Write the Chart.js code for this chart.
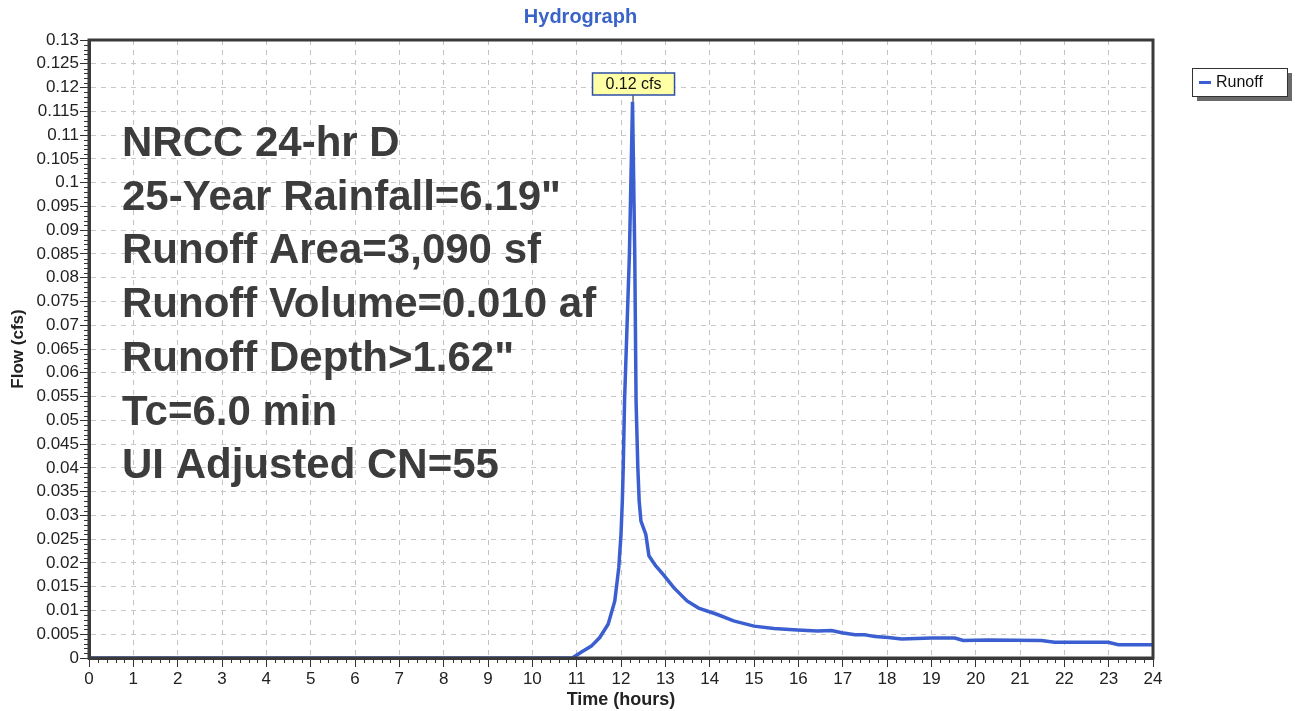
<!DOCTYPE html>
<html>
<head>
<meta charset="utf-8">
<script src="https://cdn.jsdelivr.net/npm/chart.js@4/dist/chart.umd.min.js"></script>
<style>
  html, body { margin: 0; padding: 0; background: #ffffff; }
  #wrap { width: 1296px; height: 711px; position: relative; }
</style>
</head>
<body>
<div id="wrap"><canvas id="c" width="1296" height="711"></canvas></div>
<script>
// ---- data ----
const chartTitle = "Hydrograph";
const seriesName = "Runoff";
const xTitle = "Time (hours)";
const yTitle = "Flow (cfs)";
const hours = [0, 10.9, 11.1, 11.33, 11.52, 11.71, 11.86, 11.95, 12.0, 12.03,
  12.05, 12.08, 12.19, 12.26, 12.31, 12.34, 12.38, 12.41, 12.45, 12.56,
  12.63, 12.78, 12.96, 13.19, 13.49, 13.75, 14.16, 14.54, 15.0, 15.45,
  15.98, 16.43, 16.75, 16.98, 17.28, 17.5, 17.73, 18.03, 18.33, 19.0,
  19.53, 19.72, 20.28, 21.48, 21.78, 22.99, 23.22, 24];
const flow = [0, 0, 0.0012, 0.0025, 0.0043, 0.0071, 0.012, 0.019, 0.026, 0.033,
  0.040, 0.054, 0.085, 0.117, 0.085, 0.054, 0.040, 0.033, 0.0288, 0.026,
  0.0215, 0.0194, 0.0175, 0.0148, 0.012, 0.0105, 0.0092, 0.0078, 0.0067, 0.0062,
  0.0059, 0.0057, 0.0058, 0.0053, 0.0049, 0.0049, 0.0045, 0.0043, 0.004, 0.0042,
  0.0042, 0.0037, 0.0038, 0.0037, 0.0033, 0.0033, 0.0028, 0.0028];
const xMin = 0, xMax = 24, xStep = 1, xMinorStep = 0.2;
const yMin = 0, yMax = 0.13, yStep = 0.005, yMinorStep = 0.001;
const notes = [
  "NRCC 24-hr D",
  "25-Year Rainfall=6.19\"",
  "Runoff Area=3,090 sf",
  "Runoff Volume=0.010 af",
  "Runoff Depth>1.62\"",
  "Tc=6.0 min",
  "UI Adjusted CN=55"
];
const peakUnit = "cfs";

const points = hours.map((h, i) => ({ x: h, y: flow[i] }));
const FONT = "'Liberation Sans', Arial, Helvetica, sans-serif";
const LINE_BLUE = '#3b5fd0';

const decorPlugin = {
  id: 'decor',
  beforeDatasetsDraw(chart) {
    const { ctx, chartArea: a } = chart;
    ctx.save();
    ctx.font = "bold 42px " + FONT;
    ctx.fillStyle = '#3c3c3c';
    ctx.textBaseline = 'alphabetic';
    ctx.textAlign = 'left';
    notes.forEach((t, i) => {
      ctx.fillText(t, a.left + 33, 156 + i * 53.7);
    });
    ctx.restore();
  },
  afterDraw(chart) {
    const { ctx, chartArea: a, scales } = chart;
    const xs = scales.x, ys = scales.y;
    ctx.save();
    // minor ticks
    ctx.strokeStyle = '#333';
    ctx.lineWidth = 1;
    ctx.beginPath();
    const nY = Math.round((yMax - yMin) / yMinorStep);
    for (let i = 0; i <= nY; i++) {
      if (i % Math.round(yStep / yMinorStep) === 0) continue;
      const y = Math.round(ys.getPixelForValue(yMin + i * yMinorStep)) + 0.5;
      ctx.moveTo(a.left - 5, y); ctx.lineTo(a.left, y);
    }
    const nX = Math.round((xMax - xMin) / xMinorStep);
    for (let i = 0; i <= nX; i++) {
      if (i % Math.round(xStep / xMinorStep) === 0) continue;
      const x = Math.round(xs.getPixelForValue(xMin + i * xMinorStep)) + 0.5;
      ctx.moveTo(x, a.bottom); ctx.lineTo(x, a.bottom + 5);
    }
    ctx.stroke();
    // frame
    ctx.strokeStyle = '#3a3a3a';
    ctx.lineWidth = 3;
    ctx.strokeRect(a.left, a.top, a.right - a.left, a.bottom - a.top);

    // peak label
    let pi = 0;
    flow.forEach((v, i) => { if (v > flow[pi]) pi = i; });
    const px = xs.getPixelForValue(hours[pi]);
    const py = ys.getPixelForValue(flow[pi]);
    const label = flow[pi].toFixed(2) + " " + peakUnit;
    ctx.font = "16px " + FONT;
    const tw = ctx.measureText(label).width;
    const bw = tw + 26, bh = 22, bx = px - bw / 2 + 1, by = 73;
    ctx.strokeStyle = '#111';
    ctx.lineWidth = 1;
    ctx.beginPath();
    ctx.moveTo(px + 0.5, by + bh); ctx.lineTo(px + 0.5, py);
    ctx.stroke();
    ctx.fillStyle = '#ffffa6';
    ctx.fillRect(bx, by, bw, bh);
    ctx.strokeStyle = '#2c4fa8';
    ctx.lineWidth = 1.5;
    ctx.strokeRect(bx, by, bw, bh);
    ctx.fillStyle = '#111';
    ctx.textAlign = 'center';
    ctx.textBaseline = 'middle';
    ctx.fillText(label, bx + bw / 2, by + bh / 2 + 1);

    // legend
    const lx = 1192, ly = 68, lw = 95, lh = 28;
    ctx.fillStyle = '#6a6a6a';
    ctx.fillRect(lx + 5, ly + 5, lw, lh);
    ctx.fillStyle = '#ffffff';
    ctx.fillRect(lx, ly, lw, lh);
    ctx.strokeStyle = '#333';
    ctx.lineWidth = 1;
    ctx.strokeRect(lx + 0.5, ly + 0.5, lw, lh);
    ctx.strokeStyle = LINE_BLUE;
    ctx.lineWidth = 3;
    ctx.beginPath();
    ctx.moveTo(lx + 7, ly + lh / 2 + 0.5); ctx.lineTo(lx + 19, ly + lh / 2 + 0.5);
    ctx.stroke();
    ctx.fillStyle = '#111';
    ctx.font = "16px " + FONT;
    ctx.textAlign = 'left';
    ctx.textBaseline = 'middle';
    ctx.fillText(chart.data.datasets[0].label, lx + 24, ly + lh / 2 + 1);
    ctx.restore();
  }
};

new Chart(document.getElementById('c'), {
  type: 'line',
  data: {
    datasets: [{
      label: seriesName,
      data: points,
      borderColor: LINE_BLUE,
      backgroundColor: LINE_BLUE,
      borderWidth: 3.5,
      pointRadius: 0,
      tension: 0,
      fill: false
    }]
  },
  options: {
    responsive: false,
    animation: false,
    devicePixelRatio: 1,
    layout: { padding: { left: 8, right: 143, top: 0, bottom: 0 } },
    plugins: {
      legend: { display: false },
      tooltip: { enabled: false },
      title: {
        display: true,
        text: chartTitle,
        color: '#3a63c8',
        font: { family: FONT, size: 20, weight: 'bold' },
        padding: { top: 5, bottom: 11 }
      }
    },
    scales: {
      x: {
        type: 'linear',
        min: xMin, max: xMax,
        afterFit(s) { s.height = 53; },
        ticks: {
          stepSize: xStep, autoSkip: false, maxRotation: 0,
          color: '#222', padding: 2,
          font: { family: FONT, size: 17 }
        },
        grid: {
          color: '#c2c2c2', lineWidth: 1,
          tickLength: 9, tickColor: '#333', tickWidth: 1
        },
        border: { display: true, color: '#3a3a3a', width: 3, dash: [5, 5] },
        title: {
          display: true, text: xTitle, color: '#222',
          font: { family: FONT, size: 18, weight: 'bold' },
          padding: { top: 0, bottom: 0 }
        }
      },
      y: {
        type: 'linear',
        min: yMin, max: yMax,
        afterFit(s) { s.width = 81; },
        ticks: {
          stepSize: yStep, autoSkip: false,
          color: '#222', padding: 1,
          font: { family: FONT, size: 17 },
          callback: (v) => String(Number(v.toFixed(3)))
        },
        grid: {
          color: '#c8c8c8', lineWidth: 1,
          tickLength: 9, tickColor: '#333', tickWidth: 1
        },
        border: { display: true, color: '#3a3a3a', width: 3, dash: [5, 5] },
        title: {
          display: true, text: yTitle, color: '#222',
          font: { family: FONT, size: 17, weight: 'bold' },
          padding: { top: 0, bottom: 0 }
        }
      }
    }
  },
  plugins: [decorPlugin]
});
</script>
</body>
</html>
